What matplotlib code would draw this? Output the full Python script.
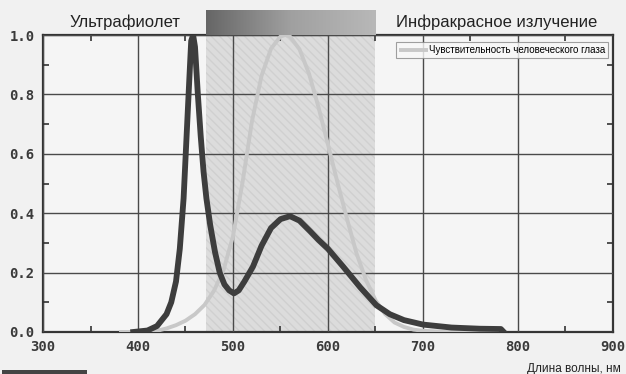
import matplotlib.pyplot as plt
import numpy as np
from matplotlib.colors import LinearSegmentedColormap
from matplotlib.patches import Rectangle
from matplotlib.ticker import MultipleLocator

# LED spectrum (dark curve)
led_nm = [395, 410, 420, 430, 435, 440, 444, 448, 451, 454, 456, 458, 460, 463, 466,
          469, 472, 476, 481, 486, 491, 496, 501, 506, 512, 521, 530, 540, 550,
          560, 570, 581, 590, 600, 616, 634, 651, 665, 680, 700, 730, 760, 782, 785]
led_val = [0.0, 0.005, 0.02, 0.06, 0.10, 0.17, 0.28, 0.45, 0.65, 0.85, 0.98, 1.0, 0.96,
           0.80, 0.66, 0.54, 0.45, 0.36, 0.27, 0.20, 0.16, 0.14, 0.13, 0.14, 0.17,
           0.22, 0.29, 0.35, 0.38, 0.39, 0.375, 0.34, 0.31, 0.28, 0.22, 0.15, 0.09,
           0.06, 0.04, 0.025, 0.015, 0.011, 0.01, 0.0]

# human eye sensitivity (light curve)
eye_nm = [380, 390, 400, 410, 420, 430, 440, 450, 460, 470, 480, 490, 500, 510,
          520, 530, 540, 550, 555, 560, 570, 580, 590, 600, 610, 620, 630, 640,
          650, 660, 670, 680, 690, 700, 720, 740, 780]
eye_val = [0.0, 0.0001, 0.0004, 0.0012, 0.004, 0.012, 0.023, 0.038, 0.06, 0.091,
           0.139, 0.208, 0.323, 0.503, 0.71, 0.862, 0.954, 0.995, 1.0, 0.995, 0.952,
           0.87, 0.757, 0.631, 0.503, 0.381, 0.265, 0.175, 0.107, 0.061, 0.032,
           0.017, 0.008, 0.004, 0.001, 0.0003, 0.0]

visible_band = (472, 650)
label_uv = 'Ультрафиолет'
label_ir = 'Инфракрасное излучение'
legend_label = 'Чувствительность человеческого глаза'
xlabel = 'Длина волны, нм'

plt.rcParams['font.family'] = ['Liberation Sans', 'DejaVu Sans']

fig = plt.figure(figsize=(6.26, 3.74), dpi=100, facecolor='#f1f1f1')
left, bottom, width, height = 0.0687, 0.1123, 0.9105, 0.7941
ax = fig.add_axes([left, bottom, width, height], facecolor='#f5f5f5')

# visible band inside the plot
ax.axvspan(*visible_band, facecolor='#dcdcdc', edgecolor='#d0d0d0',
           hatch='\\\\\\\\', linewidth=0, zorder=0)

# darker band above the plot
x0 = left + (visible_band[0] - 300) / 600 * width
x1 = left + (visible_band[1] - 300) / 600 * width
bax = fig.add_axes([x0, bottom + height, x1 - x0, 25 / 374])
band_cmap = LinearSegmentedColormap.from_list('band', ['#666666', '#a0a0a0', '#b8b8b8'])
grad = np.linspace(0, 1, 256).reshape(1, -1)
bax.imshow(grad, cmap=band_cmap, aspect='auto', extent=[0, 1, 0, 1])
bax.axis('off')

ax.plot(eye_nm, eye_val, color='#c8c8c8', lw=2.8, label=legend_label, zorder=3,
        solid_capstyle='butt')
ax.plot(led_nm, led_val, color='#3d3d3d', lw=4.2, zorder=4,
        solid_joinstyle='round')

ax.set_xlim(300, 900)
ax.set_ylim(0, 1)
ax.xaxis.set_major_locator(MultipleLocator(100))
ax.xaxis.set_minor_locator(MultipleLocator(50))
ax.yaxis.set_major_locator(MultipleLocator(0.2))
ax.yaxis.set_minor_locator(MultipleLocator(0.1))
ax.yaxis.set_major_formatter(plt.FuncFormatter(lambda v, p: f'{v:.1f}'))
ax.grid(True, which='major', color='#4a4a4a', lw=1.0, zorder=1)
ax.set_axisbelow(False)
ax.tick_params(which='both', direction='in', top=True, right=True,
               color='#333333')
ax.tick_params(which='major', length=0, pad=6)
ax.tick_params(which='minor', length=4, width=1.2)
for lab in ax.get_xticklabels() + ax.get_yticklabels():
    lab.set_fontfamily('DejaVu Sans Mono')
    lab.set_fontweight('bold')
    lab.set_fontsize(10)
    lab.set_color('#3a3a3a')
for sp in ax.spines.values():
    sp.set_color('#333333')
    sp.set_linewidth(1.6)

leg = ax.legend(loc='upper right', bbox_to_anchor=(0.992, 0.975), fontsize=7,
                frameon=True, fancybox=False, handlelength=3, borderpad=0.3,
                handletextpad=0.1, borderaxespad=0)
leg.get_frame().set_edgecolor('#888888')
leg.get_frame().set_facecolor('#f8f8f8')
leg.get_frame().set_linewidth(0.8)

fig.text(0.2, 0.941, label_uv, ha='center', va='center', fontsize=12,
         color='#222222')
fig.text(0.794, 0.941, label_ir, ha='center', va='center', fontsize=12,
         color='#222222')
fig.text(0.992, 0.014, xlabel, ha='right', va='center', fontsize=8.5,
         color='#222222')

# dark strip at the bottom left of the scan
fig.patches.append(Rectangle((0.003, 0), 0.136, 0.011, transform=fig.transFigure,
                             facecolor='#444444', edgecolor='none'))

fig.savefig('out.png', dpi=100, facecolor=fig.get_facecolor())
